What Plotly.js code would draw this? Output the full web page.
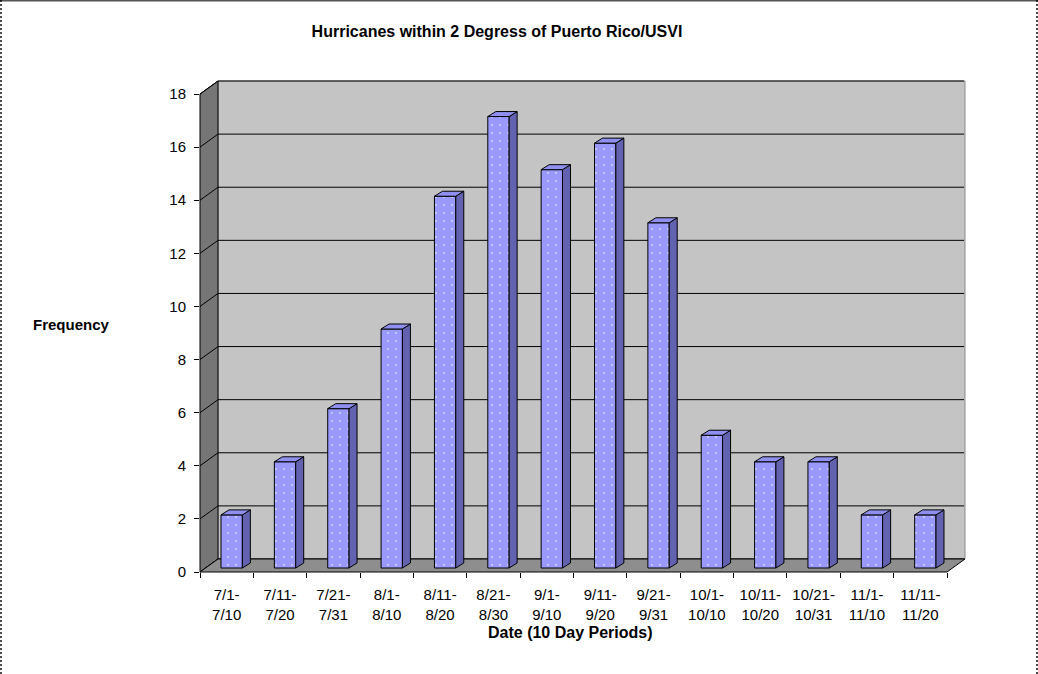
<!DOCTYPE html>
<html><head><meta charset="utf-8">
<script src="https://cdn.plot.ly/plotly-3.0.1.min.js"></script>
<style>html,body{margin:0;padding:0;background:#fff}#chart{width:1038px;height:674px}</style>
</head><body><div id="chart"></div>
<script>
// ---- data ----
const periodStarts = ['7/1','7/11','7/21','8/1','8/11','8/21','9/1','9/11','9/21','10/1','10/11','10/21','11/1','11/11'];
const periodEnds   = ['7/10','7/20','7/31','8/10','8/20','8/30','9/10','9/20','9/31','10/10','10/20','10/31','11/10','11/20'];
const frequency    = [2,4,6,9,14,17,15,16,13,5,4,4,2,2];
const yTicks       = [0,2,4,6,8,10,12,14,16,18];
const chartTitle   = 'Hurricanes within 2 Degress of Puerto Rico/USVI';
const xTitle       = 'Date (10 Day Periods)';
const yTitle       = 'Frequency';

const categories = periodStarts.map((s, i) => s + '-<br>' + periodEnds[i]);

// ---- geometry ----
const W = 1038, H = 674, L = 200, R = 73, T = 81, B = 102;
const PW = W - L - R, PH = H - T - B;
const nCat = categories.length, yMax = yTicks[yTicks.length - 1];
const frontW = 747, frontH = 478;
const pxX = frontW / nCat, pxY = frontH / yMax;
const DX = 18, DY = 13;      // wall depth (px)
const BX = 5, BY = 4;        // bar plane offset (px)
const dX = 8, dY = 5;        // bar depth (px)
const barW = 0.4;

const fx = u => (u + 0.5) * pxX / PW;
const bx = u => ((u + 0.5) * pxX + DX) / PW;
const fy = v => v * pxY / PH;
const by = v => (v * pxY + DY) / PH;
const xl = -0.5, xr = nCat - 0.5;

const FONT = 'Liberation Sans, Arial, Helvetica, sans-serif';
const shapes = [];
// back wall
shapes.push({type:'rect', xref:'paper', yref:'paper', x0:bx(xl), x1:bx(xr), y0:by(0), y1:by(yMax),
  fillcolor:'#C4C4C4', line:{color:'#8A8A8A', width:1}, layer:'below'});
// back gridlines
yTicks.forEach(v => shapes.push({type:'line', xref:'paper', yref:'paper', x0:bx(xl), x1:bx(xr) - 1/PW, y0:by(v), y1:by(v),
  line:{color:'#000', width:1}, layer:'below'}));
// left wall
shapes.push({type:'path', xref:'paper', yref:'paper', layer:'below',
  path:`M ${fx(xl)},${fy(0)} L ${fx(xl)},${fy(yMax)} L ${bx(xl)},${by(yMax)} L ${bx(xl)},${by(0)} Z`,
  fillcolor:'#767676', line:{color:'#000', width:1}});
yTicks.forEach(v => shapes.push({type:'line', xref:'paper', yref:'paper', x0:fx(xl), x1:bx(xl), y0:fy(v), y1:by(v),
  line:{color:'#000', width:1}, layer:'below'}));
// floor
shapes.push({type:'path', xref:'paper', yref:'paper', layer:'below',
  path:`M ${fx(xl)},${fy(0)} L ${fx(xr)},${fy(0)} L ${bx(xr)},${by(0)} L ${bx(xl)},${by(0)} Z`,
  fillcolor:'#8E8E8E', line:{color:'#000', width:1}});
// frame
const px2x = p => (p - L) / PW, py2y = p => (H - B - p) / PH;
shapes.push({type:'line', xref:'paper', yref:'paper', x0:px2x(0), x1:px2x(W), y0:py2y(0.8), y1:py2y(0.8), line:{color:'#555', width:1.6}});
shapes.push({type:'line', xref:'paper', yref:'paper', x0:px2x(1), x1:px2x(1), y0:py2y(0), y1:py2y(H), line:{color:'#000', width:1.4, dash:'2px,2px'}});
shapes.push({type:'line', xref:'paper', yref:'paper', x0:px2x(1037), x1:px2x(1037), y0:py2y(0), y1:py2y(H), line:{color:'#000', width:1.4, dash:'2px,2px'}});
// bar side and top faces
const ddx = dX / pxX, ddy = dY / pxY;
frequency.forEach((v, i) => {
  const l = i - barW / 2, r = i + barW / 2;
  shapes.push({type:'path', xref:'x2', yref:'y2', layer:'above',
    path:`M ${r},0 L ${r},${v} L ${r + ddx},${v + ddy} L ${r + ddx},${ddy} Z`,
    fillcolor:'#6262B0', line:{color:'#000', width:1}});
  shapes.push({type:'path', xref:'x2', yref:'y2', layer:'above',
    path:`M ${l},${v} L ${r},${v} L ${r + ddx},${v + ddy} L ${l + ddx},${v + ddy} Z`,
    fillcolor:'#8F8FF0', line:{color:'#000', width:1}});
});

const traces = [
  {type:'scatter', x:categories, y:frequency, xaxis:'x', yaxis:'y', mode:'markers',
   marker:{opacity:0}, hoverinfo:'skip', showlegend:false},
  {type:'bar', x:categories, y:frequency, xaxis:'x2', yaxis:'y2', width:barW,
   marker:{color:'#9999FF', line:{color:'#000', width:1},
     pattern:{shape:'.', fgcolor:'#D0D0FF', bgcolor:'#9999FF', size:8, solidity:0.05}},
   hoverinfo:'skip', showlegend:false}
];

const layout = {
  width: W, height: H, margin:{l:L, r:R, t:T, b:B, pad:0},
  paper_bgcolor:'#FFFFFF', plot_bgcolor:'rgba(0,0,0,0)',
  showlegend:false, hovermode:false,
  font:{family:FONT, color:'#000', size:15},
  title:{text:chartTitle, font:{family:FONT, size:16, weight:'bold', color:'#000'},
    x:497 / W, xref:'container', xanchor:'center', y:1 - 31 / H, yref:'container', yanchor:'middle'},
  xaxis:{type:'category', range:[-0.5, -0.5 + PW / pxX], tickson:'boundaries', ticks:'outside', ticklen:5,
    tickcolor:'#000', tickwidth:1, showgrid:false, zeroline:false, showline:false, fixedrange:true,
    ticklabelstandoff:12, tickfont:{family:FONT, size:15, color:'#000'}},
  yaxis:{range:[0, PH / pxY], tickvals:yTicks, ticks:'outside', ticklen:5, tickcolor:'#000', tickwidth:1,
    showgrid:false, zeroline:false, showline:false, fixedrange:true,
    ticklabelstandoff:5, tickfont:{family:FONT, size:15, color:'#000'}},
  xaxis2:{type:'category', overlaying:'x', anchor:'y2', visible:false,
    range:[-0.5 - BX / pxX, -0.5 - BX / pxX + PW / pxX], fixedrange:true},
  yaxis2:{overlaying:'y', anchor:'x2', visible:false,
    range:[-BY / pxY, -BY / pxY + PH / pxY], fixedrange:true},
  shapes: shapes,
  annotations:[
    {text:yTitle, xref:'paper', yref:'paper', x:px2x(71), y:py2y(324), showarrow:false,
     xanchor:'center', yanchor:'middle', font:{family:FONT, size:15, weight:'bold', color:'#000'}},
    {text:xTitle, xref:'paper', yref:'paper', x:px2x(570), y:py2y(632), showarrow:false,
     xanchor:'center', yanchor:'middle', font:{family:FONT, size:16, weight:'bold', color:'#000'}}
  ]
};

Plotly.newPlot('chart', traces, layout, {displayModeBar:false, staticPlot:true});
</script>
</body></html>
